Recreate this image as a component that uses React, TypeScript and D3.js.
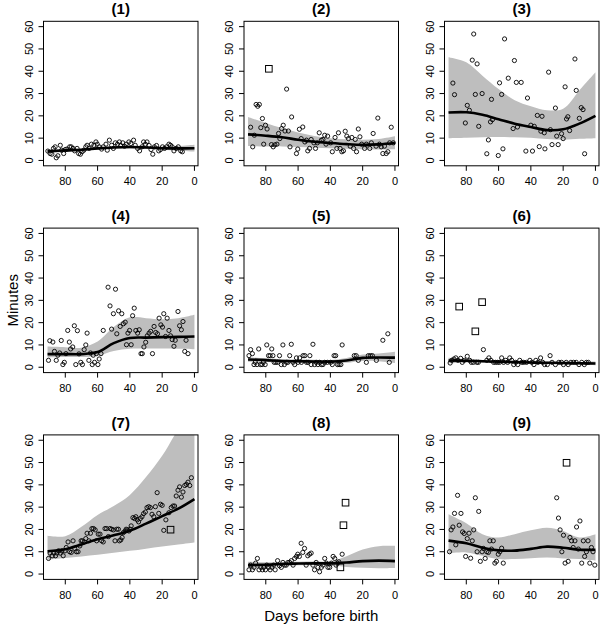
import React from "react";
import * as d3 from "d3";

const fitDays = [91, 80, 70, 60, 50, 40, 30, 20, 10, 0];
const xTicks = [80, 60, 40, 20, 0];
const yTicks = [0, 10, 20, 30, 40, 50, 60];
const titles = ["(1)", "(2)", "(3)", "(4)", "(5)", "(6)", "(7)", "(8)", "(9)"];

type Pt = [number, number]; // [days before birth, minutes]

const p1Points: Pt[] = [
  [90.8, 4.2], [89.4, 3.1], [88.3, 2.8], [87.3, 5.4], [86.3, 6.1], [85.6, 1.2], [84.6, 2.1], [83.1, 6.8],
  [82.3, 4.6], [81, 3.1], [80, 4.9], [79, 5.1], [77.3, 6.1], [76.3, 6.1], [75.2, 5.4], [74.2, 4.3],
  [72.7, 5.4], [71.7, 3.1], [70.6, 2.8], [69.6, 3.9], [68.5, 4.6], [67.3, 6.1], [66.5, 6.8], [65.2, 5.4],
  [63.8, 7.3], [62.3, 6.8], [61, 8.3], [60.2, 7.3], [59, 6.1], [57.5, 5.1], [56.5, 6.1], [54.8, 7.3],
  [54, 4.6], [52.7, 9.1], [51.3, 6.8], [50.2, 5.4], [49, 7.9], [47.7, 7.3], [46.5, 8.3], [45.6, 6.7],
  [44.4, 7.9], [43.3, 6.4], [42.3, 7.3], [40.6, 8.3], [39.4, 7.6], [37.7, 9.1], [36.7, 6.8], [35.2, 5.4],
  [34, 4.3], [32.5, 6.1], [31.5, 8.3], [30.4, 7.3], [29.4, 8.3], [28.1, 6.7], [26.9, 4.9], [25.8, 2.8],
  [24.8, 6.1], [23.5, 6.7], [22.1, 4.3], [21, 4.9], [19.8, 6.1], [18.5, 5.4], [17.3, 6.1], [15.8, 7.3],
  [14.8, 6.8], [13.8, 6.1], [12.7, 4.3], [11.3, 5.4], [10, 6.1], [8.5, 4.3], [7.5, 3.9],
];
const p1Squares: Pt[] = [];
const p1Fit = [4.1, 4.5, 4.8, 5.4, 5.8, 6.0, 5.8, 5.5, 5.4, 5.5];
const p1Lo = [3.2, 3.8, 4.2, 4.8, 5.2, 5.4, 5.2, 4.8, 4.4, 4.0];
const p1Hi = [5.0, 5.2, 5.4, 6.0, 6.4, 6.6, 6.5, 6.3, 6.4, 7.0];

const p2Points: Pt[] = [
  [89.4, 14.9], [88.1, 6.1], [87.1, 11.3], [86, 25.1], [85, 24.3], [84, 25.1], [83.1, 14.7], [82.1, 18.8],
  [81.3, 7.3], [80.2, 15.8], [79.2, 14.1], [76.5, 7.1], [75.4, 6.1], [74.4, 7], [73.1, 7.3], [72.1, 12.1],
  [71.3, 9.8], [70.2, 14.3], [69.2, 15.8], [68.1, 13.2], [67.1, 32], [66, 13.2], [65, 6.1], [64, 19.5],
  [61, 3.1], [60.2, 5.1], [59.2, 14], [58.1, 9.8], [57.1, 15], [55.8, 8.3], [54.8, 9.1], [54, 4.3],
  [52.9, 5.4], [51.9, 9.4], [50.2, 7.9], [49.2, 5.4], [48.1, 7.9], [46.9, 12.4], [45.6, 9.1], [44.6, 9.4],
  [43.5, 11.3], [42.7, 7.3], [41.7, 10.9], [39.8, 7.9], [38.8, 3.9], [37.1, 10.3], [36, 5.4], [35, 12.4],
  [34, 5.4], [32.9, 3.9], [31.9, 4.3], [30.8, 13.1], [29.8, 10.9], [28.8, 9.8], [27.7, 6.4], [26.7, 10.3],
  [25.6, 5.4], [24.6, 9.4], [23.8, 3.9], [22.7, 14.1], [21.7, 10.6], [20.6, 7.3], [18.8, 5.4], [17.7, 7.3],
  [15.6, 5.4], [14.6, 7.9], [13.5, 12.1], [11.7, 6.4], [10.6, 19], [9.6, 7.3], [8.5, 6.1], [7.5, 3.1],
  [6.5, 6.4], [5.4, 3.1], [4.4, 3.9], [3.3, 7.9], [2.3, 14.9], [1, 7.9],
];
const p2Squares: Pt[] = [[78.1, 41.1]];
const p2Fit = [11.7, 11.1, 10.4, 9.3, 8.4, 7.8, 7.3, 7.0, 7.2, 7.8];
const p2Lo = [6.5, 6.3, 6.3, 6.0, 5.7, 5.5, 5.2, 5.0, 4.9, 5.0];
const p2Hi = [19.5, 16.8, 14.5, 12.5, 11.0, 10.0, 9.5, 9.3, 9.6, 10.8];

const p3Points: Pt[] = [
  [75.4, 56.7], [56.3, 54.5], [76.3, 45], [73.3, 43.3], [50.2, 44.8], [12.7, 45.5], [29, 39.6], [54, 36.9],
  [59.4, 34.8], [49, 35], [46, 35], [88.3, 34.7], [18.8, 33], [11.9, 31.4], [87.3, 29.5], [74.4, 29.6],
  [70.2, 30], [58.1, 29.6], [64.4, 27.4], [42.1, 28], [79.4, 24.7], [78.1, 22.5], [24.8, 23.5], [8.8, 23.7],
  [7.7, 22.8], [36, 20.2], [33.1, 19.8], [17.1, 19.6], [17.9, 18.6], [10, 18.9], [80.6, 16.8], [65, 17.3],
  [63.8, 18.3], [72.3, 15.3], [48.3, 15], [51, 14.3], [40, 15.8], [37.9, 15.3], [33.8, 13.1], [31.7, 12.4],
  [27.9, 13.8], [16, 13.4], [21, 12], [24, 10.9], [20, 9.8], [66.3, 9.2], [34.8, 6.2], [26.9, 7.1],
  [23.1, 7.1], [31.3, 5.2], [57.3, 5.2], [43.1, 4.2], [39, 4.2], [67.3, 3], [60.2, 2.2], [6.7, 3],
];
const p3Squares: Pt[] = [];
const p3Fit = [21.5, 21.6, 20.5, 18.5, 16.5, 15.0, 13.6, 14.0, 16.5, 20.0];
const p3Lo = [10.0, 10.2, 10.4, 10.5, 10.4, 10.2, 9.6, 9.3, 9.7, 10.0];
const p3Hi = [46.3, 44.0, 38.0, 32.0, 27.0, 24.3, 22.5, 23.2, 31.4, 39.6];

const p4Points: Pt[] = [
  [90.4, 3.1], [89.6, 11.9], [87.7, 11.3], [86.7, 7.1], [85.6, 3.1], [84.6, 5.4], [83.5, 6.4], [82.5, 12],
  [81.5, 1.2], [80.6, 2.2], [79.6, 6.1], [78.5, 16.5], [77.5, 11.3], [76.7, 8.2], [75.4, 9.1], [74.4, 18.6],
  [73.5, 1.2], [72.5, 16.4], [71.5, 6], [70.4, 2.2], [69.4, 1.2], [68.3, 7.9], [67.3, 10], [66.5, 15.3],
  [65.4, 3.1], [64.4, 6.4], [63.3, 1.2], [62.7, 5.4], [61.9, 2.2], [60.8, 6.1], [59.8, 1.2], [59, 3.7],
  [57.9, 6.1], [56.5, 16.5], [53.5, 35.9], [52.3, 27.5], [51.3, 17.1], [50.2, 24], [48.9, 35], [48.1, 15],
  [47, 25.3], [46, 18.3], [45, 24], [44, 19.5], [42.9, 20.2], [42.1, 10.1], [41.2, 15.3], [40.2, 16.5],
  [39.2, 10.1], [38.3, 23.1], [37.3, 26.5], [36.3, 16.5], [35.2, 15.3], [34.2, 16.8], [33.1, 6.1], [32.3, 6.1],
  [31.3, 9.1], [30.2, 11.2], [29.2, 14.1], [28.1, 15.3], [27.1, 16.1], [26, 6.1], [25, 18.3], [24, 15.6],
  [22.9, 15], [21.9, 22], [20.8, 19], [19.8, 18], [19, 24], [17.9, 13.8], [16.9, 22], [15.8, 16.5],
  [14.8, 14.1], [13.8, 12.4], [12.7, 9.4], [11.9, 12.1], [10.2, 25], [9.2, 18.6], [8.1, 16.8], [7.1, 20.5],
  [6, 7.1], [5.2, 12.1], [4, 6.1],
];
const p4Squares: Pt[] = [];
const p4Fit = [5.9, 5.9, 5.9, 6.8, 10.8, 13.1, 13.3, 13.5, 13.6, 13.8];
const p4Lo = [4.4, 4.6, 4.6, 5.2, 7.3, 8.3, 8.4, 8.4, 8.3, 8.1];
const p4Hi = [9.3, 9.0, 8.8, 11.5, 18.0, 22.4, 22.0, 21.5, 22.0, 23.5];

const p5Points: Pt[] = [
  [90.4, 5.2], [89.4, 7.9], [88.3, 6.1], [87.3, 1.2], [86.5, 2.2], [85.4, 1.2], [84.4, 8.2], [83.3, 1.2],
  [82.3, 1.2], [81.5, 2.2], [80.4, 1.2], [79.4, 10], [78.3, 5.2], [77.3, 5.2], [76.3, 8.2], [75.6, 5.2],
  [74.8, 2.2], [73.8, 2.2], [72.7, 2.2], [71.5, 5.2], [70.4, 1.2], [69.4, 10], [68.5, 1.2], [67.3, 2.2],
  [66.3, 2.2], [65.2, 5.2], [64.2, 10.3], [63.1, 2.2], [62.1, 1.2], [61, 4.2], [60, 2.2], [59, 4.2],
  [57.9, 2.2], [56.9, 5.2], [55.8, 5.2], [54.8, 2.2], [53.8, 2.2], [52.7, 5.2], [51.9, 1.2], [50.8, 10.3],
  [49.8, 1.2], [48.8, 2.2], [47.7, 1.2], [46.7, 2.2], [45.6, 1.2], [44.6, 1.2], [43.5, 2.2], [41.9, 2.2],
  [39.8, 2.2], [38.8, 1.2], [37.7, 5.2], [36.7, 5.2], [35.6, 1.2], [34.6, 1.2], [33.5, 1.2], [32.7, 10],
  [25.2, 5.2], [24, 5.2], [22.7, 3.1], [17.7, 2.2], [16.5, 5.2], [15.2, 5.2], [14, 5.2], [11.5, 3.1],
  [7.5, 12.1], [4.4, 15], [3.5, 2.2],
];
const p5Squares: Pt[] = [];
const p5Fit = [3.5, 3.2, 2.8, 2.7, 2.6, 2.5, 3.0, 4.2, 4.4, 4.3];
const p5Lo = [2.5, 2.4, 2.1, 2.0, 1.9, 1.8, 2.0, 2.8, 2.7, 1.9];
const p5Hi = [4.5, 4.0, 3.6, 3.5, 3.4, 3.3, 4.2, 5.7, 6.2, 7.0];

const p6Points: Pt[] = [
  [90, 1.9], [89, 3.1], [87.7, 3.7], [86.5, 4.2], [85.2, 3.1], [83.5, 4], [82.5, 2.2], [81.3, 3.1],
  [79.4, 4.9], [77.9, 3.1], [76.9, 2.2], [75.6, 2.2], [73.5, 2.2], [72.5, 2.2], [69.4, 7.9], [67.3, 3.1],
  [66, 4.2], [64.8, 3.1], [63.1, 2.2], [61.9, 2.2], [60.6, 2.2], [59.4, 2.2], [58.1, 4.2], [56.9, 2.2],
  [55.6, 3.1], [54.4, 2.2], [53.1, 4.2], [51.9, 3.1], [50.6, 1.2], [49.4, 2.2], [48.1, 1.2], [46.9, 3.1],
  [45.6, 2.2], [44.4, 2.2], [42.7, 2.2], [40.6, 3.1], [39.4, 2.2], [38.1, 1.2], [36.9, 3.1], [35.6, 2.2],
  [34, 4.2], [32.7, 2.2], [31.5, 1.2], [29.8, 1.2], [28.1, 5.2], [26.9, 2.2], [24.8, 1.2], [22.7, 2.2],
  [21, 2.2], [19.8, 1.2], [18.1, 2.2], [16.9, 1.2], [15.2, 2.2], [13.5, 2.2], [11.9, 2.2], [10.2, 1.2],
  [8.5, 2.2], [6.9, 1.2], [5.6, 2.2], [4.4, 2.2],
];
const p6Squares: Pt[] = [[84.4, 27.2], [74.4, 16.1], [70.2, 29.2]];
const p6Fit = [3.0, 2.9, 2.7, 2.5, 2.3, 2.1, 2.0, 1.9, 1.8, 1.7];
const p6Lo = [1.7, 2.1, 2.1, 2.0, 1.8, 1.6, 1.5, 1.4, 1.2, 0.8];
const p6Hi = [4.3, 3.7, 3.3, 3.0, 2.8, 2.6, 2.5, 2.4, 2.4, 2.6];

const p7Points: Pt[] = [
  [90.4, 7], [89.4, 9.4], [88.1, 8.2], [87.1, 9.4], [86, 8.2], [85.2, 9.4], [84.2, 10.4], [83.1, 9.4],
  [82.1, 10.4], [81.3, 8.2], [80.2, 10.4], [79.4, 11.9], [78.3, 14.4], [77.3, 10], [76.3, 9.7], [75.2, 14.9],
  [74.2, 11.5], [73.1, 10], [72.1, 10], [71, 12.6], [70.2, 14.9], [69.4, 14.9], [68.3, 14.4], [67.3, 15.9],
  [66.5, 18.3], [65.4, 14.9], [64.4, 18.3], [63.5, 20.4], [62.5, 20.4], [61.5, 19.8], [60.6, 14.9], [59.6, 17.9],
  [58.5, 17.9], [57.5, 14.9], [56.5, 14.4], [55.4, 20.4], [54.4, 20.4], [53.3, 16.8], [52.3, 20.4], [51.3, 20.1],
  [50.2, 19.8], [49.2, 14.9], [48.1, 20.1], [47.1, 20.1], [46.5, 14.9], [45.6, 15.3], [44.8, 16.4], [44, 18.6],
  [42.9, 19.3], [42.3, 20.1], [41.5, 19.8], [40.6, 19.3], [39.8, 20.1], [39.2, 21.6], [38.1, 25.3], [37.1, 24.9],
  [36.3, 25.7], [35.4, 24.3], [34.6, 23.4], [33.5, 24.9], [32.5, 25.7], [31.5, 27.1], [30.4, 27.8], [29.4, 29.8],
  [28.3, 30.2], [27.3, 29.8], [26.3, 26.8], [25.2, 25.7], [24.2, 30.2], [23.1, 36.5], [22.1, 27.2], [21, 31.3],
  [20, 30.8], [19, 19.6], [17.7, 24.3], [15.8, 27.5], [14.4, 29.8], [13.3, 30.5], [12.3, 30.5], [11.3, 35],
  [10.2, 37.6], [9.2, 39.1], [8.1, 34.5], [7.1, 36.8], [6, 39.7], [5, 40.2], [4, 41.2], [2.9, 39.7],
  [1.9, 43.2],
];
const p7Squares: Pt[] = [[14.8, 19.9]];
const p7Fit = [10.2, 11.1, 13.3, 15.6, 17.4, 19.4, 22.6, 26.0, 29.3, 33.6];
const p7Lo = [6.4, 7.2, 7.9, 8.6, 9.5, 10.4, 11.4, 12.4, 13.3, 14.2];
const p7Hi = [17.2, 17.0, 21.2, 26.5, 30.5, 35.5, 43.5, 53.0, 65.0, 75.0];

const p8Points: Pt[] = [
  [90.4, 1.9], [89.4, 4], [88.3, 1.9], [87.3, 3], [86.3, 4.9], [85.2, 7], [84.2, 1.9], [83.1, 3],
  [82.1, 1.9], [81.3, 3], [80.2, 1.9], [79.4, 4], [78.3, 3], [77.3, 1.9], [76.3, 3], [75.2, 4],
  [74.2, 1.9], [72.7, 6], [71.5, 3.7], [70.4, 3], [69.4, 5.2], [68.3, 4], [67.3, 4], [66.3, 5.2],
  [65.2, 5.2], [64.2, 6], [63.1, 4], [62.1, 7], [61, 7.9], [60.2, 8.9], [59.2, 7.9], [58.1, 13.8],
  [57.1, 9.7], [56, 11.5], [55, 4], [54, 8.2], [52.9, 8.9], [51.9, 9.4], [50.8, 4], [49.8, 1.9],
  [48.8, 5.2], [47.7, 3], [46.7, 1], [45.6, 3], [44.6, 4], [43.5, 7], [42.5, 4.9], [41.5, 3],
  [40.4, 3], [39.4, 4.9], [38.3, 7.9], [37.3, 7], [36.5, 4], [35.6, 4.9], [34.8, 5.5], [32.7, 8.9],
];
const p8Squares: Pt[] = [[30.6, 32], [31.9, 21.9], [33.8, 3]];
const p8Fit = [4.0, 4.2, 4.5, 4.7, 4.8, 4.8, 5.2, 5.8, 6.0, 5.8];
const p8Lo = [2.6, 3.1, 3.6, 3.9, 4.0, 3.9, 3.2, 2.8, 2.6, 2.7];
const p8Hi = [5.5, 5.3, 5.4, 5.5, 5.6, 5.7, 8.0, 11.0, 12.5, 12.6];

const p9Points: Pt[] = [
  [90.4, 10], [89.4, 19.8], [88.3, 21.1], [87.3, 27.2], [86.5, 13.1], [85.4, 35.3], [84.4, 21.9], [83.3, 27.2],
  [82.3, 18.9], [81.3, 18.2], [80.4, 7.9], [79.4, 15.9], [78.3, 18.3], [77.3, 7.1], [76.3, 14.9], [75.4, 19.8],
  [74.4, 34.2], [73.3, 10], [72.3, 28.1], [71.3, 5.7], [70.2, 10], [69.4, 11.5], [68.3, 7], [67.3, 10],
  [66.3, 9.7], [65.4, 14.9], [64.4, 11.2], [63.3, 14.9], [62.3, 4.9], [61.3, 5.7], [60.2, 8.9], [59.2, 10],
  [58.1, 11.6], [57.1, 4.9], [24, 34.2], [22.9, 25.1], [21.9, 19.8], [20.8, 10], [19.8, 17.4], [18.8, 4.9],
  [16.9, 5.7], [15.8, 16.4], [14.8, 14.9], [13.8, 11.9], [12.7, 14.9], [11.7, 21.1], [10.6, 11.2], [9.6, 23.8],
  [8.5, 4.9], [7.5, 14.9], [6.7, 7.9], [5.6, 10], [4.6, 14.9], [3.5, 4.9], [2.5, 11.9], [1.5, 10],
  [0.4, 4],
];
const p9Squares: Pt[] = [[17.9, 49.9]];
const p9Fit = [15.0, 13.8, 11.8, 10.6, 10.5, 11.3, 12.3, 11.8, 10.9, 10.9];
const p9Lo = [9.2, 9.7, 8.2, 6.7, 6.7, 7.1, 7.4, 7.0, 6.7, 6.0];
const p9Hi = [26.8, 22.8, 17.9, 16.4, 17.9, 19.6, 20.8, 19.3, 16.4, 17.9];

const panels = [
  { points: p1Points, squares: p1Squares, fit: p1Fit, lo: p1Lo, hi: p1Hi },
  { points: p2Points, squares: p2Squares, fit: p2Fit, lo: p2Lo, hi: p2Hi },
  { points: p3Points, squares: p3Squares, fit: p3Fit, lo: p3Lo, hi: p3Hi },
  { points: p4Points, squares: p4Squares, fit: p4Fit, lo: p4Lo, hi: p4Hi },
  { points: p5Points, squares: p5Squares, fit: p5Fit, lo: p5Lo, hi: p5Hi },
  { points: p6Points, squares: p6Squares, fit: p6Fit, lo: p6Lo, hi: p6Hi },
  { points: p7Points, squares: p7Squares, fit: p7Fit, lo: p7Lo, hi: p7Hi },
  { points: p8Points, squares: p8Squares, fit: p8Fit, lo: p8Lo, hi: p8Hi },
  { points: p9Points, squares: p9Squares, fit: p9Fit, lo: p9Lo, hi: p9Hi },
];

const W = 600;
const H = 626;
// plot box of each panel (R-style mfrow 3x3)
const PW = 154.5;
const PH = 144.5;
const COL0 = 43.5;
const COL_STEP = 200.5;
const ROW0 = 21.3;
const ROW_STEP = 206.8;

const FONT = "'Liberation Sans', Arial, Helvetica, sans-serif";
const BAND = "#bebebe";

// reversed day axis, 4% padding like R's default
const x = d3.scaleLinear().domain([93.5, -2.2]).range([0, PW]);
const y = d3.scaleLinear().domain([-2.4, 62.4]).range([PH, 0]);

const fitLine = d3
  .line<number>()
  .x((_, i) => x(fitDays[i]))
  .y((v) => y(v))
  .curve(d3.curveCatmullRom.alpha(0.5));

function Panel({ idx }: { idx: number }) {
  const p = panels[idx];
  const left = COL0 + (idx % 3) * COL_STEP;
  const top = ROW0 + Math.floor(idx / 3) * ROW_STEP;
  const clipId = `clip-${idx}`;

  const band = d3
    .area<number>()
    .x((_, i) => x(fitDays[i]))
    .y0((_, i) => y(p.lo[i]))
    .y1((v) => y(v))
    .curve(d3.curveCatmullRom.alpha(0.5));

  return (
    <g transform={`translate(${left},${top})`}>
      <clipPath id={clipId}>
        <rect x={0} y={0} width={PW} height={PH} />
      </clipPath>

      <g clipPath={`url(#${clipId})`}>
        <path d={band(p.hi) ?? ""} fill={BAND} stroke="none" />
        <path d={fitLine(p.fit) ?? ""} fill="none" stroke="#000" strokeWidth={2.6} strokeLinejoin="round" />
        {p.points.map(([d, m], i) => (
          <circle key={i} cx={x(d)} cy={y(m)} r={2.1} fill="none" stroke="#000" strokeWidth={0.9} />
        ))}
        {p.squares.map(([d, m], i) => (
          <rect key={i} x={x(d) - 3.3} y={y(m) - 3.3} width={6.6} height={6.6} fill="none" stroke="#000" strokeWidth={1} />
        ))}
      </g>

      <rect x={0} y={0} width={PW} height={PH} fill="none" stroke="#000" strokeWidth={1} />

      {/* x axis */}
      {xTicks.map((t) => (
        <g key={t}>
          <line x1={x(t)} x2={x(t)} y1={PH} y2={PH + 5} stroke="#000" />
          <text x={x(t)} y={PH + 19.5} textAnchor="middle" fontSize={11} fontFamily={FONT}>
            {t}
          </text>
        </g>
      ))}

      {/* y axis, labels parallel to the axis */}
      {yTicks.map((t) => (
        <g key={t}>
          <line x1={-5} x2={0} y1={y(t)} y2={y(t)} stroke="#000" />
          <text
            transform={`translate(-11,${y(t)}) rotate(-90)`}
            textAnchor="middle"
            fontSize={11}
            fontFamily={FONT}
          >
            {t}
          </text>
        </g>
      ))}

      <text x={PW / 2} y={-7} textAnchor="middle" fontSize={15} fontWeight="bold" fontFamily={FONT}>
        {titles[idx]}
      </text>
    </g>
  );
}

export default function App() {
  return (
    <svg
      width={W}
      height={H}
      viewBox={`0 0 ${W} ${H}`}
      style={{ position: "absolute", left: 0, top: 0, background: "#fff" }}
    >
      <rect width={W} height={H} fill="#fff" />
      {panels.map((_, i) => (
        <Panel key={i} idx={i} />
      ))}
      <text
        transform={`translate(17.5,${ROW0 + ROW_STEP + PH / 2}) rotate(-90)`}
        textAnchor="middle"
        fontSize={15}
        fontFamily={FONT}
      >
        Minutes
      </text>
      <text x={COL0 + COL_STEP + PW / 2} y={621} textAnchor="middle" fontSize={15} fontFamily={FONT}>
        Days before birth
      </text>
    </svg>
  );
}
